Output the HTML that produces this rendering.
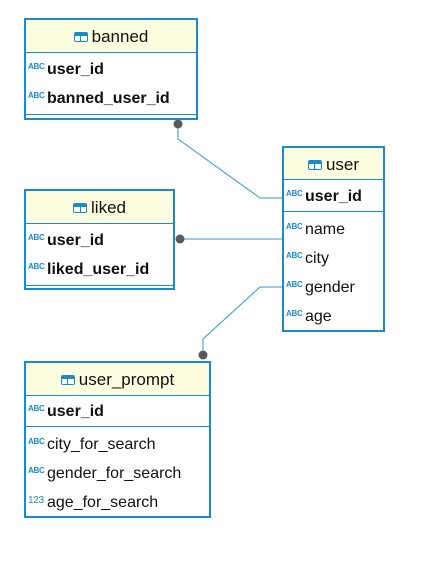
<!DOCTYPE html>
<html><head><meta charset="utf-8"><style>
body{margin:0;width:439px;height:583px;background:#fff;position:relative;overflow:hidden;font-family:"Liberation Sans",sans-serif;}
.t{position:absolute;border:2px solid #1a8ccc;box-sizing:border-box;background:#fff;}
.h{position:absolute;left:0;right:0;top:0;background:#fdfde0;border-bottom:1px solid #1a8ccc;text-align:center;font-size:17px;color:#111;}
.h i{display:inline-block;width:14px;height:10px;border:1px solid #1a8ccc;background:linear-gradient(#1a8ccc,#1a8ccc) 0 0/100% 3px no-repeat,linear-gradient(#1a8ccc,#1a8ccc) 50% 0/1px 100% no-repeat,#fff;border-radius:2px;margin-right:4px;vertical-align:0px;box-sizing:border-box}
.r{position:absolute;left:2px;font-size:16px;color:#111;white-space:nowrap;}
.r b{font-weight:bold}
.r s{text-decoration:none;font-size:8px;color:#1a8ccc;font-weight:bold;display:inline-block;width:19px;vertical-align:5px;letter-spacing:-0.3px}
.sep{position:absolute;left:0;right:0;border-top:1px solid #1a8ccc;}
</style></head><body>
<svg width="439" height="583" style="position:absolute;left:0;top:0">
<g stroke="#2b9ad6" stroke-width="1" fill="none">
<polyline points="178,124 178,139 260,198 282,198"/>
<polyline points="180,239 282,239"/>
<polyline points="282,287 260,287 203,339 203,355"/>
</g>
<g fill="#5a5a5a"><circle cx="178" cy="124" r="4.5"/><circle cx="180" cy="239" r="4.5"/><circle cx="203" cy="355" r="4.5"/></g>
</svg>

<div class="t" style="left:24px;top:18px;width:174px;height:102px">
<div class="h" style="height:32px;line-height:34px"><i></i>banned</div>
<div class="r" style="top:41px"><s>ABC</s><b>user_id</b></div>
<div class="r" style="top:70px"><s>ABC</s><b>banned_user_id</b></div>
<div class="sep" style="top:94px"></div>
</div>

<div class="t" style="left:24px;top:189px;width:151px;height:101px">
<div class="h" style="height:32px;line-height:34px"><i></i>liked</div>
<div class="r" style="top:41px"><s>ABC</s><b>user_id</b></div>
<div class="r" style="top:70px"><s>ABC</s><b>liked_user_id</b></div>
<div class="sep" style="top:94px"></div>
</div>

<div class="t" style="left:282px;top:146px;width:103px;height:186px">
<div class="h" style="height:31px;line-height:34px"><i></i>user</div>
<div class="r" style="top:40px"><s>ABC</s><b>user_id</b></div>
<div class="sep" style="top:63px"></div>
<div class="r" style="top:73px"><s>ABC</s>name</div>
<div class="r" style="top:102px"><s>ABC</s>city</div>
<div class="r" style="top:131px"><s>ABC</s>gender</div>
<div class="r" style="top:160px"><s>ABC</s>age</div>
</div>

<div class="t" style="left:24px;top:361px;width:187px;height:157px">
<div class="h" style="height:32px;line-height:34px"><i></i>user_prompt</div>
<div class="r" style="top:40px"><s>ABC</s><b>user_id</b></div>
<div class="sep" style="top:63px"></div>
<div class="r" style="top:73px"><s>ABC</s>city_for_search</div>
<div class="r" style="top:102px"><s>ABC</s>gender_for_search</div>
<div class="r" style="top:131px"><s style="font-size:10px;font-weight:normal;vertical-align:4px">123</s>age_for_search</div>
</div>
</body></html>
